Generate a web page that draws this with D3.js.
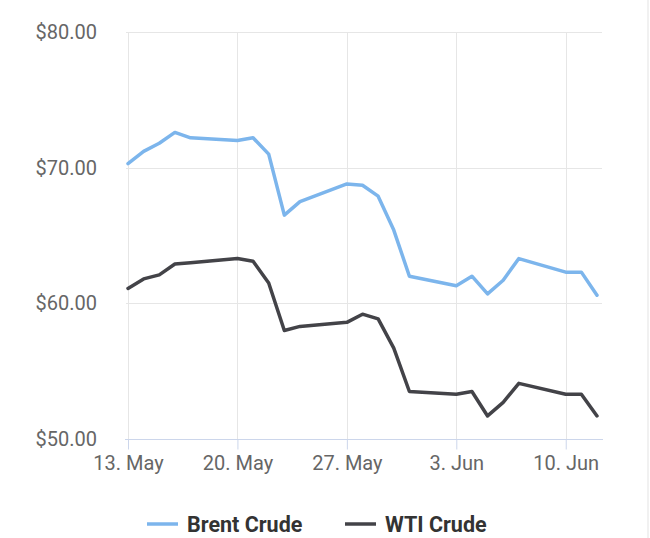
<!DOCTYPE html>
<html>
<head>
<meta charset="utf-8">
<script src="https://cdn.jsdelivr.net/npm/d3@7"></script>
<style>
  body { margin: 0; background: #fff; }
  svg { font-family: Roboto, "Open Sans", sans-serif; }
</style>
</head>
<body>
<div id="chart"></div>
<script>
// trading days
var dates = ["2019-05-13","2019-05-14","2019-05-15","2019-05-16","2019-05-17",
             "2019-05-20","2019-05-21","2019-05-22","2019-05-23","2019-05-24",
             "2019-05-27","2019-05-28","2019-05-29","2019-05-30","2019-05-31",
             "2019-06-03","2019-06-04","2019-06-05","2019-06-06","2019-06-07",
             "2019-06-10","2019-06-11","2019-06-12"];
var brent = [70.3, 71.2, 71.8, 72.6, 72.2,
             72.0, 72.2, 71.0, 66.5, 67.5,
             68.8, 68.7, 67.9, 65.4, 62.0,
             61.3, 62.0, 60.7, 61.7, 63.3,
             62.3, 62.3, 60.6];
var wti = [61.1, 61.8, 62.1, 62.9, 63.0,
           63.3, 63.1, 61.5, 58.0, 58.3,
           58.6, 59.2, 58.85, 56.7, 53.5,
           53.3, 53.5, 51.7, 52.7, 54.1,
           53.3, 53.3, 51.7];
var yTicks = [50, 60, 70, 80];
var xTicks = ["2019-05-13","2019-05-20","2019-05-27","2019-06-03","2019-06-10"];
var seriesNames = ["Brent Crude", "WTI Crude"];
var colors = ["#7cb5ec", "#434348"];

var width = 650, height = 538;
var parse = d3.timeParse("%Y-%m-%d");

var x = d3.scaleTime()
    .domain([parse(dates[0]), parse(dates[dates.length - 1])])
    .range([128, 597]);
var y = d3.scaleLinear()
    .domain([50, 80])
    .range([439, 32]);

var svg = d3.select("#chart").append("svg")
    .attr("width", width)
    .attr("height", height);

// right border
svg.append("line")
    .attr("x1", 648).attr("x2", 648)
    .attr("y1", 0).attr("y2", height)
    .attr("stroke", "#ececec").attr("stroke-width", 1.5);

// horizontal grid
svg.append("g").selectAll("line")
    .data(yTicks.filter(function(d) { return d > 50; }))
  .enter().append("line")
    .attr("x1", 126).attr("x2", 602)
    .attr("y1", function(d) { return Math.round(y(d)) + 0.5; })
    .attr("y2", function(d) { return Math.round(y(d)) + 0.5; })
    .attr("stroke", "#e6e6e6");

// vertical grid
svg.append("g").selectAll("line")
    .data(xTicks)
  .enter().append("line")
    .attr("x1", function(d) { return Math.round(x(parse(d))) + 0.5; })
    .attr("x2", function(d) { return Math.round(x(parse(d))) + 0.5; })
    .attr("y1", 32).attr("y2", 439)
    .attr("stroke", "#e6e6e6");

// y axis labels
svg.append("g").selectAll("text")
    .data(yTicks)
  .enter().append("text")
    .attr("x", 97)
    .attr("y", function(d) { return y(d) + 7; })
    .attr("text-anchor", "end")
    .attr("font-size", "20px")
    .attr("fill", "#666")
    .text(function(d) { return "$" + d.toFixed(2); });

// x axis
var xAxis = d3.axisBottom(x)
    .tickValues(xTicks.map(parse))
    .tickSize(10)
    .tickSizeOuter(0)
    .tickFormat(d3.timeFormat("%-d. %b"));

var gx = svg.append("g")
    .attr("transform", "translate(0,439.5)")
    .call(xAxis);
gx.select(".domain")
    .attr("d", "M125,0H603")
    .attr("stroke", "#ccd6eb");
gx.selectAll(".tick line").attr("stroke", "#ccd6eb");
gx.selectAll(".tick text")
    .attr("font-size", "20px")
    .attr("font-family", "Roboto, sans-serif")
    .attr("fill", "#666")
    .attr("dy", "0.85em");

// lines
var line = d3.line()
    .x(function(d) { return x(parse(d[0])); })
    .y(function(d) { return y(d[1]); });

[brent, wti].forEach(function(vals, i) {
  svg.append("path")
      .datum(dates.map(function(d, j) { return [d, vals[j]]; }))
      .attr("fill", "none")
      .attr("stroke", colors[i])
      .attr("stroke-width", 3.5)
      .attr("stroke-linejoin", "round")
      .attr("stroke-linecap", "round")
      .attr("d", line);
});

// legend
var legendX = [147, 345];
var lg = svg.append("g").selectAll("g")
    .data(seriesNames)
  .enter().append("g")
    .attr("transform", function(d, i) { return "translate(" + legendX[i] + ",524)"; });
lg.append("line")
    .attr("x1", 0).attr("x2", 31)
    .attr("stroke", function(d, i) { return colors[i]; })
    .attr("stroke-width", 3.5);
lg.append("text")
    .attr("x", 40)
    .attr("y", 7.5)
    .attr("font-size", "21.5px")
    .attr("font-weight", "bold")
    .attr("fill", "#333")
    .text(function(d) { return d; });
</script>
</body>
</html>
